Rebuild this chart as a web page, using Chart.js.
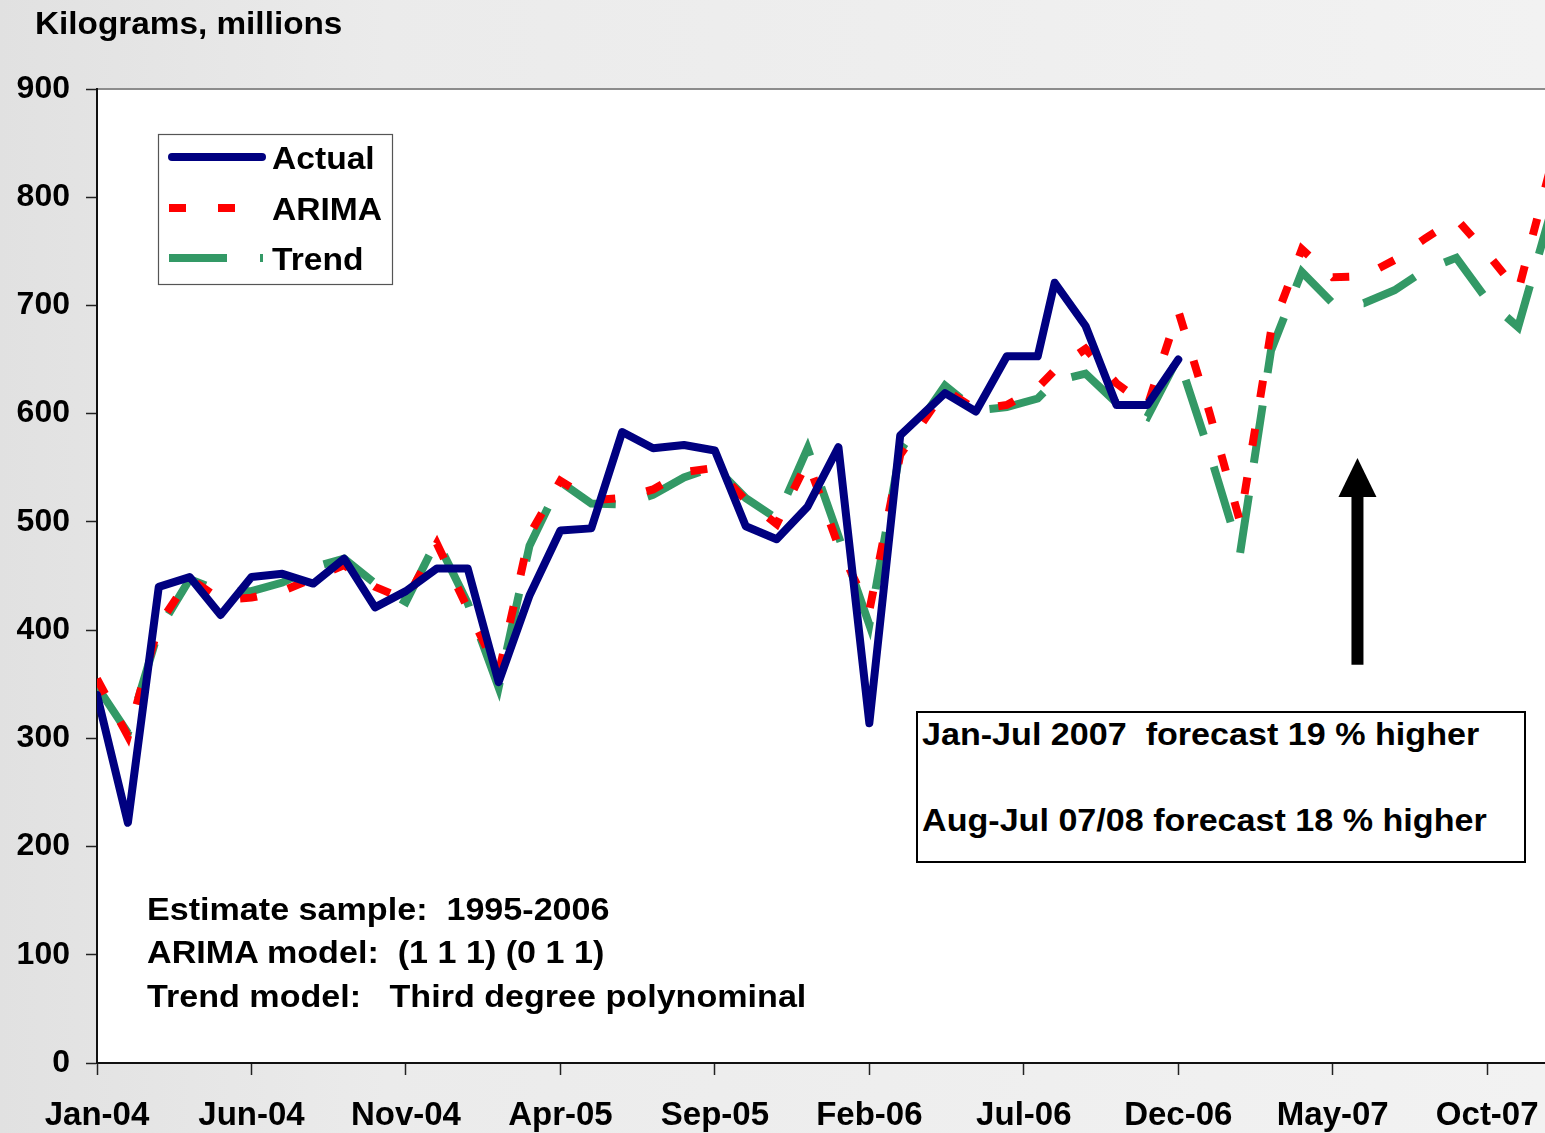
<!DOCTYPE html>
<html lang="en">
<head>
<meta charset="UTF-8">
<title>Kilograms, millions: Actual, ARIMA and Trend</title>
<script src="https://cdn.jsdelivr.net/npm/chart.js"></script>
<style>
  html, body { margin: 0; padding: 0; }
  body {
    width: 1545px; height: 1133px; overflow: hidden; position: relative;
    background: linear-gradient(90deg, #e1e1e1 0%, #ebebeb 25%, #f2f2f2 100%);
    font-family: "Liberation Sans", Arial, sans-serif;
  }
  #wrap { position: absolute; left: 0; top: 0; width: 1600px; height: 1133px; }
  .note {
    position: absolute; font-weight: bold; font-size: 31px; line-height: 35px;
    white-space: pre; color: #000; transform-origin: left center; transform: scaleX(1.1);
  }
  #forecastBox {
    position: absolute; left: 916px; top: 711px; width: 610px; height: 152px;
    border: 2px solid #000; background: #fff; box-sizing: border-box;
  }
</style>
</head>
<body>

<div id="wrap"><canvas id="chart" width="1600" height="1133"></canvas></div>

<div class="note" style="left:35px; top:6px; transform: scaleX(1.075);">Kilograms, millions</div>

<div class="note" style="left:147px; top:892px;">Estimate sample:  1995-2006</div>
<div class="note" style="left:147px; top:935px;">ARIMA model:  (1 1 1) (0 1 1)</div>
<div class="note" style="left:147px; top:979px;">Trend model:   Third degree polynominal</div>

<div id="forecastBox"></div>
<div class="note" style="left:922px; top:717px;">Jan-Jul 2007  forecast 19 % higher</div>
<div class="note" style="left:922px; top:803px;">Aug-Jul 07/08 forecast 18 % higher</div>

<script>
const monthLabels = [
  "Jan-04","Feb-04","Mar-04","Apr-04","May-04","Jun-04","Jul-04","Aug-04","Sep-04","Oct-04","Nov-04","Dec-04",
  "Jan-05","Feb-05","Mar-05","Apr-05","May-05","Jun-05","Jul-05","Aug-05","Sep-05","Oct-05","Nov-05","Dec-05",
  "Jan-06","Feb-06","Mar-06","Apr-06","May-06","Jun-06","Jul-06","Aug-06","Sep-06","Oct-06","Nov-06","Dec-06",
  "Jan-07","Feb-07","Mar-07","Apr-07","May-07","Jun-07","Jul-07","Aug-07","Sep-07","Oct-07","Nov-07","Dec-07"
];

// position of each observation on the month axis (0 = Jan-04)
const xPos = [
  0, 1, 2, 3, 4, 5, 6, 7, 8, 9, 10, 11,
  12, 13, 14, 15, 16, 17, 18, 19, 20, 21, 22, 23,
  24, 25, 26, 27.45, 28.45, 29.45, 30.45, 31, 32, 33, 34, 35,
  36, 37, 38, 39, 40, 41, 42, 43, 44, 45, 46, 47
];

const actual = [
  340, 222, 440, 449, 414, 449, 452, 443, 466, 421, 436, 457,
  457, 352, 432, 492, 494, 583, 568, 571, 566, 496, 484, 514,
  569, 314, 580, 619, 602, 653, 653, 721, 681, 608, 608, 650
];

const arima = [
  355, 302, 405, 448, 428, 430, 436, 448, 460, 440, 428, 480,
  420, 360, 488, 538, 520, 522, 530, 546, 550, 520, 498, 556,
  478, 418, 562, 622, 604, 608, 624, 640, 660, 628, 607, 695,
  602, 500, 676, 752, 726, 727, 742, 762, 780, 748, 713, 822
];

const trend = [
  348, 305, 400, 447, 436, 436, 444, 458, 466, 443, 426, 483,
  425, 347, 478, 537, 517, 516, 525, 541, 551, 522, 503, 568,
  487, 405, 566, 626, 603, 606, 614, 630, 637, 610, 597, 652,
  565, 471, 658, 731, 702, 702, 714, 733, 744, 705, 680, 780
];

// arrow pointing up at the forecast part (month position, from value, to value)
const arrowMonth = 40.8;
const arrowFrom = 368;
const arrowTo = 559;

const FONT = '"Liberation Sans", Arial, sans-serif';
const NAVY = "#000080";
const RED = "#ff0000";
const GREEN = "#339966";

function pts(values) {
  return values.map((v, i) => ({ x: xPos[i], y: v }));
}

// white plot area with the grey frame line on top
const plotBg = {
  id: "plotBg",
  beforeDraw(chart) {
    const { ctx, chartArea: a } = chart;
    ctx.save();
    ctx.fillStyle = "#ffffff";
    ctx.fillRect(a.left, a.top, chart.width - a.left, a.bottom - a.top);
    ctx.strokeStyle = "#8c8c8c";
    ctx.lineWidth = 2;
    ctx.beginPath();
    ctx.moveTo(a.left, a.top);
    ctx.lineTo(chart.width, a.top);
    ctx.stroke();
    ctx.restore();
  }
};

// legend box and arrow
const extras = {
  id: "extras",
  afterDraw(chart) {
    const { ctx } = chart;
    const xs = chart.scales.x, ys = chart.scales.y;

    // legend
    ctx.save();
    ctx.fillStyle = "#ffffff";
    ctx.fillRect(158, 134, 234, 150);
    ctx.strokeStyle = "#555555";
    ctx.lineWidth = 1.2;
    ctx.strokeRect(158.5, 134.5, 234, 150);
    const rows = [157, 208, 258];
    chart.data.datasets.forEach((ds, i) => {
      const y = rows[i];
      ctx.strokeStyle = ds.borderColor;
      ctx.lineWidth = ds.borderWidth;
      ctx.lineCap = ds.borderDash ? "butt" : "round";
      ctx.setLineDash(ds.borderDash || []);
      ctx.beginPath();
      ctx.moveTo(ds.borderDash ? 169 : 172, y);
      ctx.lineTo(ds.borderDash ? 263 : 262, y);
      ctx.stroke();
      ctx.setLineDash([]);
      ctx.save();
      ctx.translate(272, y + 3);
      ctx.scale(1.05, 1);
      ctx.fillStyle = "#000";
      ctx.font = "bold 32px " + FONT;
      ctx.textBaseline = "middle";
      ctx.fillText(ds.label, 0, 0);
      ctx.restore();
    });

    // arrow
    const cx = xs.getPixelForValue(arrowMonth);
    const tip = ys.getPixelForValue(arrowTo);
    const bottom = ys.getPixelForValue(arrowFrom);
    const headH = 39, headW = 38, shaft = 12;
    ctx.fillStyle = "#000";
    ctx.fillRect(cx - shaft / 2, tip + headH - 1, shaft, bottom - tip - headH + 1);
    ctx.beginPath();
    ctx.moveTo(cx, tip);
    ctx.lineTo(cx + headW / 2, tip + headH);
    ctx.lineTo(cx - headW / 2, tip + headH);
    ctx.closePath();
    ctx.fill();
    ctx.restore();
  }
};

const ctx = document.getElementById("chart").getContext("2d");
new Chart(ctx, {
  type: "line",
  data: {
    datasets: [
      { label: "Actual", data: pts(actual), borderColor: NAVY, borderWidth: 8,
        borderJoinStyle: "round", borderCapStyle: "round", pointRadius: 0, tension: 0 },
      { label: "ARIMA", data: pts(arima), borderColor: RED, borderWidth: 8,
        borderDash: [17, 32], pointRadius: 0, tension: 0 },
      { label: "Trend", data: pts(trend), borderColor: GREEN, borderWidth: 8,
        borderDash: [58, 33], pointRadius: 0, tension: 0 }
    ]
  },
  options: {
    responsive: false,
    animation: false,
    layout: { padding: { top: 89, right: 51, left: 0, bottom: 0 } },
    plugins: { legend: { display: false }, tooltip: { enabled: false } },
    scales: {
      x: {
        type: "linear", min: 0, max: 47,
        afterFit: s => { s.height = 70; },
        ticks: {
          stepSize: 5, includeBounds: false, autoSkip: false, maxRotation: 0,
          padding: 21, color: "#000",
          font: { family: FONT, size: 33, weight: "bold" },
          callback: v => monthLabels[v]
        },
        grid: { drawOnChartArea: false, tickLength: 12, tickColor: "#222", tickWidth: 1.5 },
        border: { color: "#111", width: 2 }
      },
      y: {
        min: 0, max: 900,
        afterFit: s => { s.width = 97; },
        ticks: {
          stepSize: 100, padding: 16, color: "#000",
          font: { family: FONT, size: 32, weight: "bold" }
        },
        grid: { drawOnChartArea: false, tickLength: 11, tickColor: "#222", tickWidth: 1.5 },
        border: { color: "#111", width: 2 }
      }
    }
  },
  plugins: [plotBg, extras]
});
</script>
</body>
</html>
